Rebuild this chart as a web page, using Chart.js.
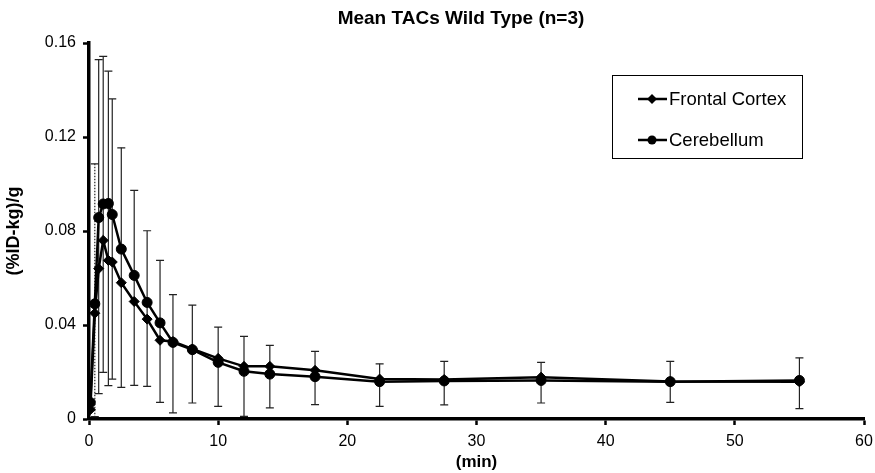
<!DOCTYPE html>
<html>
<head>
<meta charset="utf-8">
<title>Mean TACs Wild Type (n=3)</title>
<script src="https://cdn.jsdelivr.net/npm/chart.js@4"></script>
<style>
  body { margin: 0; background: #fff; }
</style>
</head>
<body>
<canvas id="tacChart" width="875" height="473"></canvas>
<script>
const times = [0.1, 0.45, 0.75, 1.1, 1.5, 1.8, 2.5, 3.5, 4.5, 5.5, 6.5, 8, 10, 12, 14, 17.5, 22.5, 27.5, 35, 45, 55];
const frontalCortex = [0.004, 0.045, 0.064, 0.076, 0.0675, 0.0668, 0.058, 0.050, 0.0425, 0.0335, 0.033, 0.0298, 0.0258, 0.0224, 0.0224, 0.0207, 0.017, 0.0168, 0.0178, 0.016, 0.0158];
const cerebellum = [0.007, 0.049, 0.0857, 0.0915, 0.0917, 0.087, 0.0723, 0.0611, 0.0496, 0.0409, 0.0326, 0.0295, 0.0241, 0.0203, 0.0191, 0.018, 0.0159, 0.0162, 0.0164, 0.0159, 0.0164];
// top and bottom ends of the error bars
const errUpper = [null, 0.1086, 0.1529, 0.1543, 0.148, 0.1362, 0.1154, 0.0973, 0.0801, 0.0675, 0.0529, 0.0485, 0.0391, 0.0352, 0.0313, 0.0288, 0.0235, 0.0245, 0.0241, 0.0245, 0.026];
const errLower = [null, 0.001, 0.0108, 0.0198, 0.0142, 0.017, 0.0135, 0.0143, 0.0139, 0.0071, 0.0026, 0.0068, 0.0054, 0.0011, 0.0047, 0.0061, 0.0054, 0.006, 0.0068, 0.0071, 0.0044];

const xTicks = [0, 10, 20, 30, 40, 50, 60];
const yTicks = [0, 0.04, 0.08, 0.12, 0.16];
const yTickLabels = ['0', '0.04', '0.08', '0.12', '0.16'];

const fontFamily = '"Liberation Sans", Arial, sans-serif';

function toPoints(values) {
    return times.map((t, i) => ({ x: t, y: values[i] }));
}

const errorBars = {
    id: 'errorBars',
    beforeDatasetsDraw(chart) {
        const ctx = chart.ctx;
        const xs = chart.scales.x;
        const ys = chart.scales.y;
        ctx.save();
        ctx.strokeStyle = '#222';
        ctx.lineWidth = 1.2;
        times.forEach((t, i) => {
            if (errUpper[i] == null) return;
            const px = xs.getPixelForValue(t);
            const top = ys.getPixelForValue(errUpper[i]);
            const bottom = ys.getPixelForValue(errLower[i]);
            ctx.setLineDash(i === 1 ? [1.5, 1.5] : []);
            ctx.beginPath();
            ctx.moveTo(px, top);
            ctx.lineTo(px, bottom);
            ctx.stroke();
            ctx.setLineDash([]);
            ctx.beginPath();
            ctx.moveTo(px - 4, top);
            ctx.lineTo(px + 4, top);
            ctx.moveTo(px - 4, bottom);
            ctx.lineTo(px + 4, bottom);
            ctx.stroke();
        });
        ctx.restore();
    }
};

const titleAndLegend = {
    id: 'titleAndLegend',
    afterDraw(chart) {
        const ctx = chart.ctx;
        ctx.save();
        ctx.fillStyle = '#000';
        ctx.font = 'bold 19px ' + fontFamily;
        ctx.textAlign = 'center';
        ctx.textBaseline = 'middle';
        ctx.fillText('Mean TACs Wild Type (n=3)', 461, 19);

        // legend box
        ctx.strokeStyle = '#000';
        ctx.lineWidth = 1;
        ctx.strokeRect(612.5, 75.5, 190, 83);
        ctx.font = '18.5px ' + fontFamily;
        ctx.textAlign = 'left';
        chart.data.datasets.forEach((ds, i) => {
            const y = 99 + i * 41;
            ctx.strokeStyle = '#000';
            ctx.lineWidth = 2.5;
            ctx.beginPath();
            ctx.moveTo(638, y);
            ctx.lineTo(667, y);
            ctx.stroke();
            ctx.beginPath();
            if (ds.pointStyle === 'rectRot') {
                ctx.moveTo(652, y - 5);
                ctx.lineTo(657, y);
                ctx.lineTo(652, y + 5);
                ctx.lineTo(647, y);
                ctx.closePath();
            } else {
                ctx.arc(652, y, 4.5, 0, Math.PI * 2);
            }
            ctx.fill();
            ctx.fillText(ds.label, 669, y + 1);
        });
        ctx.restore();
    }
};

new Chart(document.getElementById('tacChart'), {
    type: 'scatter',
    data: {
        datasets: [
            {
                label: 'Frontal Cortex',
                data: toPoints(frontalCortex),
                showLine: true,
                borderColor: '#000',
                backgroundColor: '#000',
                borderWidth: 2.5,
                pointStyle: 'rectRot',
                pointRadius: 5,
                pointBorderWidth: 1
            },
            {
                label: 'Cerebellum',
                data: toPoints(cerebellum),
                showLine: true,
                borderColor: '#000',
                backgroundColor: '#000',
                borderWidth: 2.5,
                pointStyle: 'circle',
                pointRadius: 5,
                pointBorderWidth: 1
            }
        ]
    },
    options: {
        responsive: false,
        animation: false,
        layout: { padding: { top: 43, right: 0, left: 0, bottom: 0 } },
        plugins: {
            legend: { display: false },
            tooltip: { enabled: false }
        },
        scales: {
            x: {
                type: 'linear',
                min: 0,
                max: 60,
                afterBuildTicks: s => { s.ticks = xTicks.map(v => ({ value: v })); },
                afterFit: s => { s.height = 54; s.paddingRight = 11; },
                grid: { drawOnChartArea: false, drawTicks: true, tickLength: 6, tickColor: '#000', tickWidth: 2.5 },
                border: { color: '#000', width: 3.5 },
                ticks: { color: '#000', font: { family: fontFamily, size: 16 }, padding: 7, maxRotation: 0 },
                title: { display: true, text: '(min)', color: '#000', font: { family: fontFamily, size: 17, weight: 'bold' }, padding: 0 }
            },
            y: {
                min: 0,
                max: 0.16,
                afterBuildTicks: s => { s.ticks = yTicks.map(v => ({ value: v })); },
                afterFit: s => { s.width = 89; },
                grid: { drawOnChartArea: false, drawTicks: true, tickLength: 6, tickColor: '#000', tickWidth: 2.5 },
                border: { color: '#000', width: 3.5 },
                ticks: {
                    color: '#000',
                    font: { family: fontFamily, size: 16 },
                    padding: 7,
                    callback: (v, i) => yTickLabels[i]
                },
                title: { display: true, text: '(%ID-kg)/g', color: '#000', font: { family: fontFamily, size: 18, weight: 'bold' }, padding: { top: 3 } }
            }
        }
    },
    plugins: [errorBars, titleAndLegend]
});
</script>
</body>
</html>
